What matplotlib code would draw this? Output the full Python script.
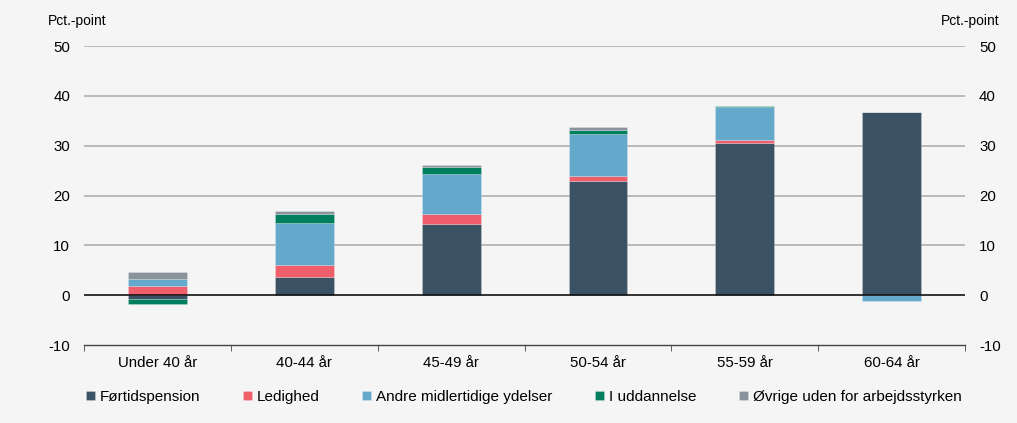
import matplotlib.pyplot as plt
import numpy as np

plt.rcParams["font.family"] = ["Liberation Sans", "DejaVu Sans"]
plt.rcParams["font.size"] = 10
plt.rcParams["axes.unicode_minus"] = False

categories = ["Under 40 år", "40-44 år", "45-49 år", "50-54 år", "55-59 år", "60-64 år"]
series_names = ["Førtidspension", "Ledighed", "Andre midlertidige ydelser",
                 "I uddannelse", "Øvrige uden for arbejdsstyrken"]
fortid = [-0.8, 3.7, 14.3, 23.0, 30.5, 36.7]
ledighed = [1.8, 2.3, 2.0, 1.0, 0.6, 0.0]
andre = [1.5, 8.5, 8.0, 8.4, 6.7, -1.1]
uddannelse = [-0.9, 1.9, 1.35, 0.7, 0.2, 0.0]
ovrige = [1.3, 0.6, 0.55, 0.65, 0.05, 0.0]

colors = ["#3b5264", "#ee5f6b", "#64a9cc", "#007f5f", "#8a939c"]
bg = "#f5f5f5"

fig = plt.figure(figsize=(10.17, 4.23), dpi=100, facecolor=bg)
ax = fig.add_axes([0.0826, 0.184, 0.8664, 0.707])
ax.set_facecolor(bg)

x = np.arange(len(categories))
pos_base = np.zeros(len(categories))
neg_base = np.zeros(len(categories))
for name, vals, c in zip(series_names, [fortid, ledighed, andre, uddannelse, ovrige], colors):
    vals = np.array(vals)
    bottoms = np.where(vals >= 0, pos_base, neg_base)
    ax.bar(x, vals, width=0.4, bottom=bottoms, color=c, label=name, zorder=2,
           edgecolor=(1, 1, 1, 0.25), linewidth=0.6)
    pos_base += np.where(vals >= 0, vals, 0)
    neg_base += np.where(vals < 0, vals, 0)

ax.set_xlim(-0.5, len(categories) - 0.5)
ax.set_ylim(-10, 50)
ax.set_yticks(range(-10, 51, 10))
for yv in range(10, 51, 10):
    ax.axhline(yv, color="#b4b4b4", lw=1.3, zorder=1)
ax.axhline(0, color="#111111", lw=1.2, zorder=3)

for s in ["top", "right", "left"]:
    ax.spines[s].set_visible(False)
ax.spines["bottom"].set_position(("data", -10))
ax.spines["bottom"].set_color("#444444")
ax.spines["bottom"].set_linewidth(1.0)

ax.set_xticks(x)
ax.set_xticklabels(categories)
ax.set_xticks(np.arange(-0.5, len(categories), 1), minor=True)
ax.tick_params(axis="x", which="major", length=0, pad=8, labelsize=10.8)
ax.tick_params(axis="x", which="minor", length=4, color="#444444", direction="out")
ax.tick_params(axis="y", length=0, pad=10, labelsize=10.8)

ax2 = ax.twinx()
ax2.set_ylim(-10, 50)
ax2.set_yticks(range(-10, 51, 10))
ax2.tick_params(axis="y", length=0, pad=10, labelsize=10.8)
for s in ax2.spines.values():
    s.set_visible(False)

fig.text(0.047, 0.95, "Pct.-point", fontsize=10, ha="left", va="center")
fig.text(0.983, 0.95, "Pct.-point", fontsize=10, ha="right", va="center")

handles, labels = ax.get_legend_handles_labels()
fig.legend(handles, labels, loc="center", bbox_to_anchor=(0.515, 0.062), ncol=5,
           frameon=False, handlelength=0.6, handleheight=0.6, handletextpad=0.3,
           columnspacing=2.8, fontsize=11)

fig.savefig("out.png", dpi=100, facecolor=bg)
